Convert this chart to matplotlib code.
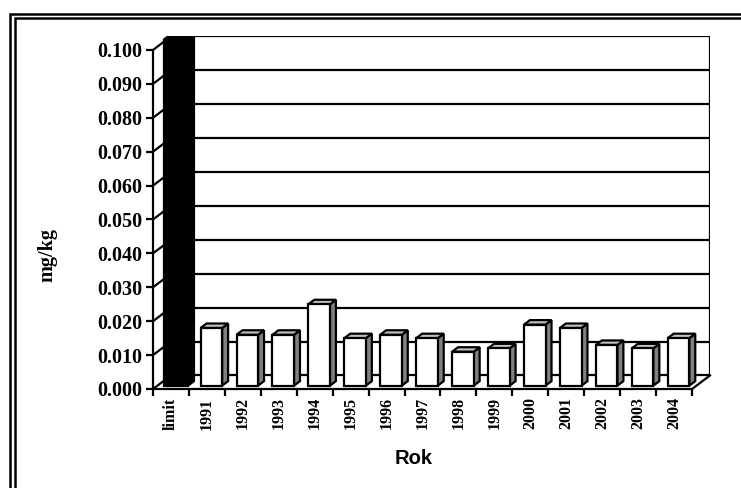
import matplotlib
matplotlib.use("Agg")
import matplotlib.pyplot as plt
from matplotlib.patches import Rectangle, Polygon
import numpy as np

categories = ["limit", "1991", "1992", "1993", "1994", "1995", "1996", "1997",
              "1998", "1999", "2000", "2001", "2002", "2003", "2004"]
values = [0.102, 0.017, 0.015, 0.015, 0.024, 0.014, 0.015, 0.014,
          0.010, 0.011, 0.018, 0.017, 0.012, 0.011, 0.014]
yticks = [0.000, 0.010, 0.020, 0.030, 0.040, 0.050, 0.060, 0.070, 0.080, 0.090, 0.100]
ylabel = "mg/kg"
xlabel = "Rok"

W, H = 741, 488
fig = plt.figure(figsize=(W / 100, H / 100), dpi=100)
fig.patch.set_facecolor("white")

# pixel geometry of the front plane / back wall
x_left, x_right, y_bottom, y_top = 153, 710, 389, 36.4
ax = fig.add_axes([x_left / W, 1 - y_bottom / H, (x_right - x_left) / W, (y_bottom - y_top) / H])

n = len(categories)
DX = 0.5        # full depth in category units
DY = 0.004      # full depth in value units
ax.set_xlim(0, n + DX)
ax.set_ylim(0, 0.1 + DY)
ax.patch.set_visible(False)

LW = 1.6
# back wall gridlines
for v in yticks:
    ax.plot([DX, n + DX], [v + DY, v + DY], color="black", lw=LW, solid_capstyle="butt", zorder=1)
    ax.plot([0, DX], [v, v + DY], color="black", lw=LW, zorder=1)
ax.plot([n + DX, n + DX], [DY, 0.1 + DY], color="black", lw=LW, zorder=1)
ax.plot([DX, DX], [DY, 0.1 + DY], color="black", lw=LW, zorder=1)
ax.plot([n, n + DX], [0, DY], color="black", lw=LW, zorder=1, clip_on=False)

# bars
d1, d2 = 0.25, 0.58
w = 0.6
for i, v in enumerate(values):
    x0 = i + 0.2 + d1 * DX
    y0 = d1 * DY
    sx = (d2 - d1) * DX
    sy = (d2 - d1) * DY
    if i == 0:
        fc_front = fc_top = fc_side = "black"
        x0 -= 0.03
        ww = w + 0.08
    else:
        fc_front, fc_top, fc_side = "white", "#c0c0c0", "#808080"
        ww = w
    front = Rectangle((x0, y0), ww, v, facecolor=fc_front, edgecolor="black", lw=LW, zorder=3)
    top = Polygon([(x0, y0 + v), (x0 + sx, y0 + v + sy), (x0 + ww + sx, y0 + v + sy), (x0 + ww, y0 + v)],
                  closed=True, facecolor=fc_top, edgecolor="black", lw=LW, zorder=3)
    side = Polygon([(x0 + ww, y0), (x0 + ww + sx, y0 + sy), (x0 + ww + sx, y0 + v + sy), (x0 + ww, y0 + v)],
                   closed=True, facecolor=fc_side, edgecolor="black", lw=LW, zorder=3)
    for p in (side, top, front):
        ax.add_patch(p)

# spines / ticks
for s in ("top", "right"):
    ax.spines[s].set_visible(False)
ax.spines["left"].set_bounds(0, 0.1)
ax.spines["bottom"].set_bounds(0, n)
ax.spines["left"].set_linewidth(LW)
ax.spines["bottom"].set_linewidth(LW)
ax.spines["left"].set_zorder(5)
ax.spines["bottom"].set_zorder(5)

ax.set_yticks(yticks)
ax.set_yticklabels([f"{t:.3f}" for t in yticks], fontfamily="Liberation Serif",
                   fontweight="bold", fontsize=14.5)
ax.tick_params(axis="y", direction="out", length=5, width=LW, pad=3)

ax.set_xticks(np.arange(n + 1))
ax.set_xticklabels([])
ax.set_xticks(np.arange(n) + 0.5, minor=True)
ax.set_xticklabels(categories, minor=True, rotation=90, fontfamily="Liberation Serif",
                   fontweight="bold", fontsize=11.5)
ax.tick_params(axis="x", which="major", direction="out", length=5, width=LW)
ax.tick_params(axis="x", which="minor", length=0, pad=6)

ax.set_ylabel(ylabel, fontfamily="Liberation Serif", fontweight="bold", fontsize=14.5, va="center")
ax.yaxis.set_label_coords((47 - x_left) / (x_right - x_left), (y_bottom - 255) / (y_bottom - y_top))
ax.set_xlabel(xlabel, fontfamily="Liberation Sans", fontweight="bold", fontsize=14.5, va="center")
ax.xaxis.set_label_coords((414 - x_left) / (x_right - x_left), (y_bottom - 458) / (y_bottom - y_top))

# double frame around the chart
for px, py in ((9.5, 14), (14.5, 18.5)):
    fig.patches.append(Rectangle((px / W, -0.5), 2, 1 - py / H + 0.5, transform=fig.transFigure,
                                 fill=False, edgecolor="black", lw=1.8))

fig.savefig("out.png", dpi=100, facecolor="white")
